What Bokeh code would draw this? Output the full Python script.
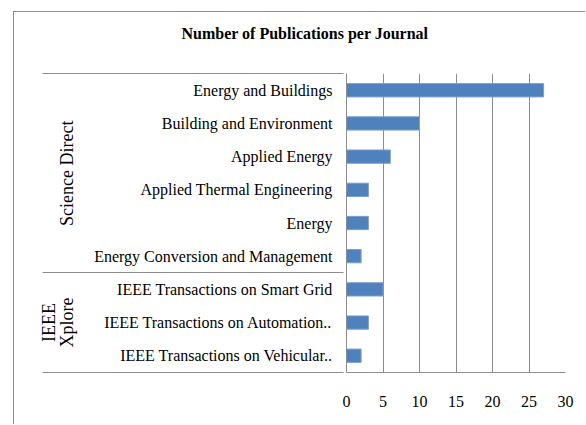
from bokeh.plotting import figure
from bokeh.models import FactorRange, Range1d, FixedTicker, Title
from bokeh.embed import file_html
from bokeh.resources import INLINE

# ---- data ----
title_text = "Number of Publications per Journal"
journals = [
    "Energy and Buildings",
    "Building and Environment",
    "Applied Energy",
    "Applied Thermal Engineering",
    "Energy",
    "Energy Conversion and Management",
    "IEEE Transactions on Smart Grid",
    "IEEE Transactions on Automation..",
    "IEEE Transactions on Vehicular..",
]
counts = [27, 10, 6, 3, 3, 2, 5, 3, 2]
sources = ["Science Direct"] * 6 + ["IEEE\nXplore"] * 3
x_ticks = [0, 5, 10, 15, 20, 25, 30]

FONT = "Liberation Serif"
GRID = "#8c8c8c"
BAR = "#4F81BD"

pairs = list(zip(sources, journals))
# blank edge groups (kept just outside the visible range) so that the axis
# draws its group separator lines along the top and bottom of the category block
edge_bottom = (" ", " ")
edge_top = ("  ", "  ")
y_factors = [edge_bottom] + list(reversed(pairs)) + [edge_top]

p = figure(
    width=572, height=413,
    y_range=FactorRange(factors=y_factors, range_padding=-0.995,
                        range_padding_units="absolute",
                        factor_padding=0, group_padding=0),
    x_range=Range1d(x_ticks[0], x_ticks[-1]),
    output_backend="svg", toolbar_location=None, title=None,
    min_border_left=332, min_border_right=21, min_border_top=61, min_border_bottom=53,
    styles={"margin-left": "13px", "margin-top": "11px",
            "border-left": "1px solid #8c8c8c", "border-top": "1px solid #8c8c8c"},
)
p.background_fill_color = "white"
p.border_fill_color = "white"
p.outline_line_color = None

# spacer title (nearest the frame) then the real title above it
p.add_layout(Title(text=" ", text_font=FONT, text_font_size="16px", standoff=13), "above")
p.add_layout(Title(text=title_text, align="left", offset=-165, standoff=0,
                   text_font=FONT, text_font_size="16px", text_font_style="bold",
                   text_color="black"), "above")

p.hbar(y=pairs, right=counts, left=0, height=0.4,
       fill_color=BAR, line_color="#7a9fd0", line_width=1)

p.xaxis.ticker = FixedTicker(ticks=x_ticks)
p.xaxis.axis_line_color = GRID
p.xaxis.major_tick_line_color = None
p.xaxis.minor_tick_line_color = None
p.xaxis.major_tick_out = 0
p.xaxis.major_tick_in = 0
p.xaxis.major_label_text_font = FONT
p.xaxis.major_label_text_font_size = "16px"
p.xaxis.major_label_text_color = "black"
p.xaxis.major_label_standoff = 23

ya = p.yaxis[0]
ya.axis_line_color = GRID
ya.axis_line_width = 1
ya.major_tick_line_color = None
ya.major_tick_out = 0
ya.major_tick_in = 0
ya.major_label_text_font = FONT
ya.major_label_text_font_size = "16px"
ya.major_label_text_color = "black"
ya.major_label_standoff = 14
ya.group_label_orientation = "vertical"
ya.group_text_font = FONT
ya.group_text_font_size = "18px"
ya.group_text_font_style = "normal"
ya.group_text_color = "black"
ya.group_text_line_height = 0.9
ya.separator_line_color = GRID
ya.separator_line_width = 1

p.xgrid.ticker = FixedTicker(ticks=x_ticks)
p.xgrid.grid_line_color = GRID
p.xgrid.grid_line_width = 1
p.ygrid.grid_line_color = None

open("out.html", "w").write(file_html(p, INLINE))
